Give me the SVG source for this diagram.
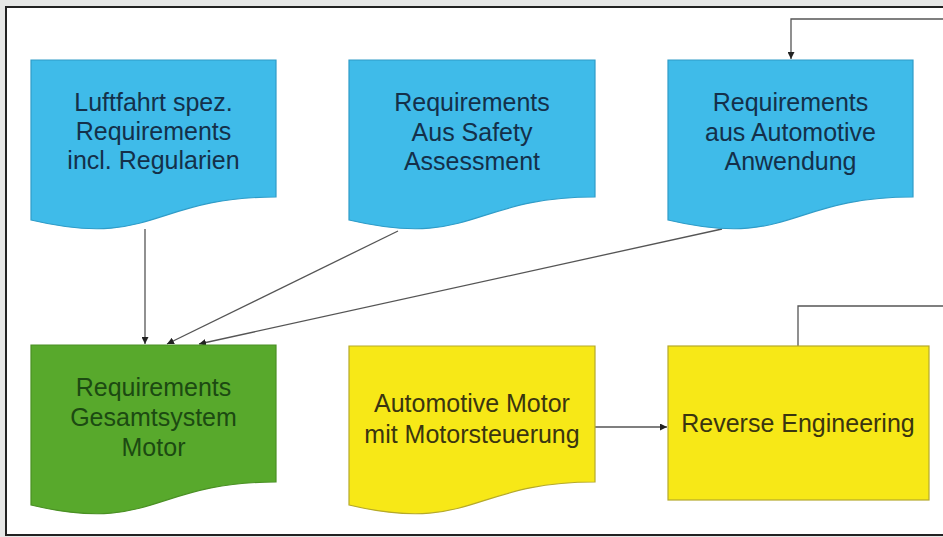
<svg xmlns="http://www.w3.org/2000/svg" width="943" height="537" viewBox="0 0 943 537">
<defs>
<style>
.t{font-family:"Liberation Sans",Arial,sans-serif;font-size:25px;text-anchor:middle}
.blue{fill:#3fbbe9;stroke:#2f9cc8;stroke-width:1.2}
.green{fill:#58a92c;stroke:#4a9024;stroke-width:1.2}
.yellow{fill:#f7e817;stroke:#b5a92a;stroke-width:1.2}
.tb{fill:#14304a}
.tg{fill:#1c4a12}
.ty{fill:#3a3510}
.c{fill:none;stroke:#555;stroke-width:1.3}
</style>
<marker id="ah" viewBox="0 0 10 10" refX="10" refY="5" markerWidth="7" markerHeight="7" markerUnits="userSpaceOnUse" orient="auto">
<path d="M0,0 L10,5 L0,10 Z" fill="#222"/>
</marker>
</defs>
<rect x="0" y="0" width="943" height="537" fill="#e6e7e6"/>
<rect x="6" y="7" width="945" height="528" fill="#ffffff" stroke="#222" stroke-width="2"/>

<g id="connectors">
<line class="c" x1="145" y1="229" x2="145" y2="344" marker-end="url(#ah)"/>
<line class="c" x1="398" y1="231" x2="167" y2="344" marker-end="url(#ah)"/>
<line class="c" x1="722" y1="229" x2="199" y2="344" marker-end="url(#ah)"/>
<line class="c" x1="595" y1="427" x2="667" y2="427" marker-end="url(#ah)"/>
<path class="c" d="M798,346 V306 H943"/>
<path class="c" d="M943,19 H791 V59" marker-end="url(#ah)"/>
</g>

<g id="n1">
<path class="blue" d="M31,60 H276 V197 C153,197 153,249 31,220 Z"/>
<text class="t tb" x="153.5" y="111">Luftfahrt spez.</text>
<text class="t tb" x="153.5" y="140">Requirements</text>
<text class="t tb" x="153.5" y="169">incl. Regularien</text>
</g>

<g id="n2">
<path class="blue" d="M349,60 H595 V197 C472,197 472,249 349,220 Z"/>
<text class="t tb" x="472" y="111">Requirements</text>
<text class="t tb" x="472" y="141">Aus Safety</text>
<text class="t tb" x="472" y="170">Assessment</text>
</g>

<g id="n3">
<path class="blue" d="M668,60 H913 V197 C790,197 790,249 668,220 Z"/>
<text class="t tb" x="790.5" y="111">Requirements</text>
<text class="t tb" x="790.5" y="141">aus Automotive</text>
<text class="t tb" x="790.5" y="170">Anwendung</text>
</g>

<g id="n4">
<path class="green" d="M31,345 H276 V482 C153,482 153,534 31,505 Z"/>
<text class="t tg" x="153.5" y="396">Requirements</text>
<text class="t tg" x="153.5" y="426">Gesamtsystem</text>
<text class="t tg" x="153.5" y="456">Motor</text>
</g>

<g id="n5">
<path class="yellow" d="M349,346 H595 V482 C472,482 472,534 349,505 Z"/>
<text class="t ty" x="472" y="412">Automotive Motor</text>
<text class="t ty" x="472" y="443">mit Motorsteuerung</text>
</g>

<g id="n6">
<rect class="yellow" x="668" y="346" width="261" height="154"/>
<text class="t ty" x="798" y="432">Reverse Engineering</text>
</g>
</svg>
